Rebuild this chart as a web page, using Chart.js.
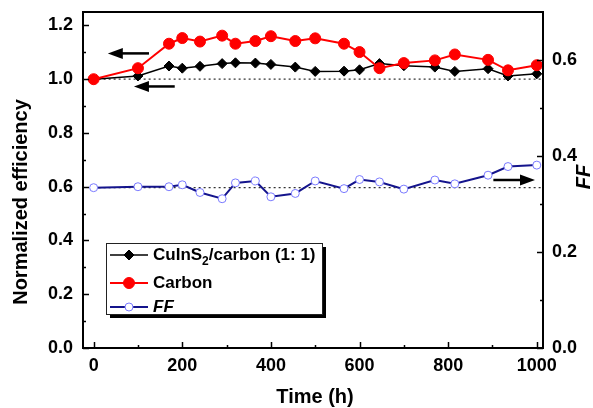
<!DOCTYPE html>
<html>
<head>
<meta charset="utf-8">
<script src="https://cdn.jsdelivr.net/npm/chart.js@4/dist/chart.umd.min.js"></script>
<style>
  html, body { margin: 0; padding: 0; background: #fff; }
  #wrap { width: 593px; height: 408px; }
</style>
</head>
<body>
<div id="wrap"><canvas id="c"></canvas></div>
<script>
// Stability test: normalized efficiency of the two cells and fill factor vs. time
const timeHours   = [0, 100, 170, 200, 240, 290, 320, 365, 400, 455, 500, 565, 600, 645, 700, 770, 815, 890, 935, 1000];
const cuinsCarbon = [1.000, 1.012, 1.049, 1.041, 1.048, 1.058, 1.061, 1.060, 1.055, 1.045, 1.029, 1.030, 1.035, 1.058, 1.050, 1.045, 1.029, 1.039, 1.012, 1.020];
const carbonOnly  = [1.000, 1.041, 1.132, 1.153, 1.140, 1.162, 1.132, 1.142, 1.160, 1.142, 1.152, 1.132, 1.101, 1.041, 1.060, 1.070, 1.092, 1.072, 1.033, 1.052];
const fillFactor  = [0.334, 0.336, 0.336, 0.340, 0.324, 0.311, 0.344, 0.348, 0.315, 0.322, 0.348, 0.332, 0.351, 0.346, 0.331, 0.350, 0.342, 0.360, 0.378, 0.381];

const timeTicks = [0, 200, 400, 600, 800, 1000];
const effTicks  = [0.0, 0.2, 0.4, 0.6, 0.8, 1.0, 1.2];
const ffTicks   = [0.0, 0.2, 0.4, 0.6];

const seriesLabels = ['CuInS\u2082/carbon (1: 1)', 'Carbon', 'FF'];

const FONT = '"Liberation Sans", Arial, Helvetica, sans-serif';
const toXY = (ys) => timeHours.map((t, i) => ({ x: t, y: ys[i] }));

// Reference levels (initial values) shown as dotted guides
const effRef = cuinsCarbon[0];
const ffRef = fillFactor[0];

// Arrows point each series to the axis it belongs to: [fromX, toX, y, axis]
const axisArrows = [
  [125, 32, 1.096, 'y'],
  [183, 91, 0.973, 'y'],
  [902, 996, 0.350, 'y2']
];

const frameAndDecor = {
  id: 'frameAndDecor',
  afterDatasetsDraw(chart) {
    const { ctx, chartArea: a, scales } = chart;
    const x = scales.x, y = scales.y, y2 = scales.y2;
    ctx.save();

    // arrows
    ctx.strokeStyle = '#000';
    ctx.fillStyle = '#000';
    ctx.lineWidth = 2.5;
    axisArrows.forEach(([fx, tx, v, ax]) => {
      const sc = ax === 'y' ? y : y2;
      const py = sc.getPixelForValue(v);
      const x0 = x.getPixelForValue(fx), x1 = x.getPixelForValue(tx);
      const dir = Math.sign(x1 - x0);
      ctx.beginPath();
      ctx.moveTo(x0, py);
      ctx.lineTo(x1 - dir * 12, py);
      ctx.stroke();
      ctx.beginPath();
      ctx.moveTo(x1, py);
      ctx.lineTo(x1 - dir * 15, py - 5.5);
      ctx.lineTo(x1 - dir * 15, py + 5.5);
      ctx.closePath();
      ctx.fill();
    });

    // legend box with drop shadow
    const lx = 106, ly = 243, lw = 216, lh = 71;
    ctx.fillStyle = '#000';
    ctx.fillRect(lx + 4, ly + lh, lw, 4);
    ctx.fillRect(lx + lw, ly + 4, 4, lh);
    ctx.fillStyle = '#fff';
    ctx.fillRect(lx, ly, lw, lh);
    ctx.strokeStyle = '#222';
    ctx.lineWidth = 1;
    ctx.strokeRect(lx + 0.5, ly + 0.5, lw, lh);

    const rows = [255, 283, 307];
    [0, 1, 2].forEach((di, r) => {
      const ds = chart.data.datasets[di];
      const ry = rows[r];
      ctx.strokeStyle = ds.borderColor;
      ctx.lineWidth = ds.borderWidth;
      ctx.beginPath();
      ctx.moveTo(110, ry);
      ctx.lineTo(148, ry);
      ctx.stroke();
      ctx.fillStyle = ds.pointBackgroundColor;
      ctx.strokeStyle = ds.pointBorderColor;
      ctx.lineWidth = ds.pointBorderWidth || 1;
      ctx.beginPath();
      const r0 = ds.pointRadius;
      if (ds.pointStyle === 'rectRot') {
        ctx.moveTo(129, ry - r0); ctx.lineTo(129 + r0, ry); ctx.lineTo(129, ry + r0); ctx.lineTo(129 - r0, ry);
        ctx.closePath();
      } else {
        ctx.arc(129, ry, r0, 0, Math.PI * 2);
      }
      ctx.fill();
      ctx.stroke();

      // label, with subscript digits lowered
      const italic = di === 2;
      ctx.fillStyle = '#000';
      ctx.textBaseline = 'middle';
      ctx.textAlign = 'left';
      let tx = 153;
      const base = (italic ? 'italic ' : '') + 'bold 17px ' + FONT;
      const sub = 'bold 12px ' + FONT;
      const parts = ds.label.split('\u2082');
      parts.forEach((p, k) => {
        ctx.font = base;
        ctx.fillText(p, tx, ry);
        tx += ctx.measureText(p).width;
        if (k < parts.length - 1) {
          ctx.font = sub;
          ctx.fillText('2', tx, ry + 7);
          tx += ctx.measureText('2').width;
        }
      });
    });

    // plot frame
    ctx.strokeStyle = '#000';
    ctx.lineWidth = 2;
    ctx.strokeRect(a.left, a.top, a.right - a.left, a.bottom - a.top);

    // inward tick marks
    ctx.lineWidth = 1.5;
    const tickV = (sc, v, len, side) => {
      const p = Math.round(sc.getPixelForValue(v)) + 0.5;
      ctx.beginPath();
      if (side === 'left') { ctx.moveTo(a.left, p); ctx.lineTo(a.left + len, p); }
      else { ctx.moveTo(a.right, p); ctx.lineTo(a.right - len, p); }
      ctx.stroke();
    };
    effTicks.forEach(v => tickV(y, v, 6, 'left'));
    effTicks.slice(0, -1).forEach(v => tickV(y, v + 0.1, 3, 'left'));
    ffTicks.forEach(v => tickV(y2, v, 6, 'right'));
    ffTicks.slice(0, -1).forEach(v => tickV(y2, v + 0.1, 3, 'right'));
    const tickH = (v, len) => {
      const p = Math.round(x.getPixelForValue(v)) + 0.5;
      ctx.beginPath();
      ctx.moveTo(p, a.bottom);
      ctx.lineTo(p, a.bottom - len);
      ctx.stroke();
    };
    timeTicks.forEach(v => tickH(v, 6));
    timeTicks.slice(0, -1).forEach(v => tickH(v + 100, 3));

    // axis titles
    ctx.fillStyle = '#000';
    ctx.textAlign = 'center';
    ctx.textBaseline = 'middle';
    ctx.font = 'bold 20px ' + FONT;
    ctx.fillText('Time (h)', 315, 397);
    ctx.save();
    ctx.translate(21, 202);
    ctx.rotate(-Math.PI / 2);
    ctx.fillText('Normalized efficiency', 0, 0);
    ctx.restore();
    ctx.save();
    ctx.translate(584, 177);
    ctx.rotate(-Math.PI / 2);
    ctx.font = 'italic bold 20px ' + FONT;
    ctx.fillText('FF', 0, 0);
    ctx.restore();

    ctx.restore();
  }
};

const tickFont = { family: FONT, size: 18, weight: 'bold' };

// fixed axis bands so the plot frame sits at a known place
const fitVertical = (w) => (s) => { s.width = w; s.paddingTop = 0; s.paddingBottom = 0; };
const fitHorizontal = (h) => (s) => { s.height = h; s.paddingLeft = 0; s.paddingRight = 0; };

new Chart(document.getElementById('c'), {
  type: 'line',
  data: {
    datasets: [
      {
        label: seriesLabels[0],
        data: toXY(cuinsCarbon),
        yAxisID: 'y',
        borderColor: '#000',
        borderWidth: 1.5,
        pointStyle: 'rectRot',
        pointRadius: 5,
        pointBackgroundColor: '#000',
        pointBorderColor: '#000',
        pointBorderWidth: 1,
        order: 2
      },
      {
        label: seriesLabels[1],
        data: toXY(carbonOnly),
        yAxisID: 'y',
        borderColor: '#ff0000',
        borderWidth: 2,
        pointStyle: 'circle',
        pointRadius: 5.5,
        pointBackgroundColor: '#ff0000',
        pointBorderColor: '#ff0000',
        pointBorderWidth: 1,
        order: 1
      },
      {
        label: seriesLabels[2],
        data: toXY(fillFactor),
        yAxisID: 'y2',
        borderColor: '#14148c',
        borderWidth: 2,
        pointStyle: 'circle',
        pointRadius: 4,
        pointBackgroundColor: '#ffffff',
        pointBorderColor: '#7a7aff',
        pointBorderWidth: 1,
        order: 1
      },
      {
        label: 'eff-ref',
        data: [{ x: 0, y: effRef }, { x: 1014, y: effRef }],
        yAxisID: 'y',
        borderColor: '#333',
        borderWidth: 1.2,
        borderDash: [2, 3],
        pointRadius: 0,
        order: 5
      },
      {
        label: 'ff-ref',
        data: [{ x: 0, y: ffRef }, { x: 1014, y: ffRef }],
        yAxisID: 'y2',
        borderColor: '#333',
        borderWidth: 1.2,
        borderDash: [2, 3],
        pointRadius: 0,
        order: 5
      }
    ]
  },
  options: {
    responsive: true,
    maintainAspectRatio: false,
    animation: false,
    layout: { padding: { top: 12, right: 0, left: 0, bottom: 0 } },
    plugins: { legend: { display: false }, tooltip: { enabled: false } },
    scales: {
      x: {
        type: 'linear',
        min: -24,
        max: 1014,
        grid: { display: false, drawTicks: false },
        border: { display: false },
        afterBuildTicks: (s) => { s.ticks = timeTicks.map(v => ({ value: v })); },
        afterFit: fitHorizontal(60),
        ticks: { font: tickFont, color: '#000', padding: 7, maxRotation: 0, callback: (v) => String(v) }
      },
      y: {
        type: 'linear',
        position: 'left',
        min: 0,
        max: 1.25,
        grid: { display: false, drawTicks: false },
        border: { display: false },
        afterBuildTicks: (s) => { s.ticks = effTicks.map(v => ({ value: v })); },
        afterFit: fitVertical(83),
        ticks: { font: tickFont, color: '#000', padding: 10, callback: (v) => v.toFixed(1) }
      },
      y2: {
        type: 'linear',
        position: 'right',
        min: 0,
        max: 0.7,
        grid: { display: false, drawTicks: false },
        border: { display: false },
        afterBuildTicks: (s) => { s.ticks = ffTicks.map(v => ({ value: v })); },
        afterFit: fitVertical(50),
        ticks: { font: tickFont, color: '#000', padding: 9, callback: (v) => v.toFixed(1) }
      }
    }
  },
  plugins: [frameAndDecor]
});
</script>
</body>
</html>
